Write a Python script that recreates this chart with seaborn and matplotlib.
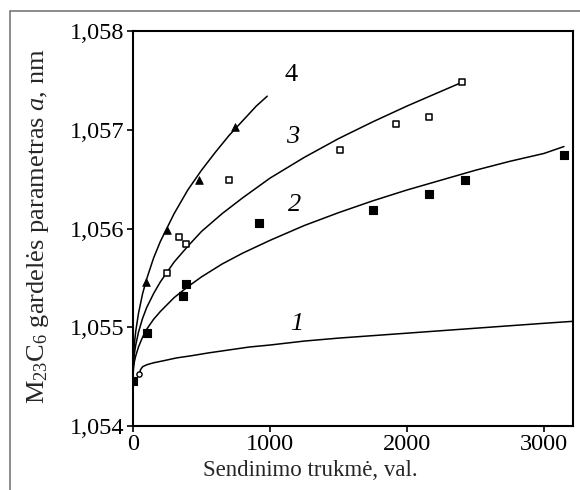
import numpy as np
import pandas as pd
import matplotlib
matplotlib.use("Agg")
import matplotlib.pyplot as plt
from matplotlib.patches import Rectangle
from matplotlib.ticker import FixedLocator, FixedFormatter
import seaborn as sns

# ---------------- data ----------------
# measured points
s1_x = [46]
s1_y = [1.05453]

s2_x = [0, 100, 365, 389, 917, 1754, 2163, 2426, 3146]
s2_y = [1.05446, 1.05494, 1.05532, 1.05544, 1.05606, 1.05619, 1.05635, 1.05649, 1.05674]

s3_x = [245, 336, 389, 698, 1511, 1920, 2161, 2401]
s3_y = [1.05555, 1.05591, 1.05584, 1.05649, 1.05679, 1.05706, 1.05713, 1.05748]

s4_x = [95, 245, 480, 745]
s4_y = [1.05546, 1.05598, 1.05649, 1.05703]

# fitted curves
c1_x = [46, 55, 70, 100, 150, 220, 320, 420, 550, 700, 850, 1000, 1250, 1500,
        1800, 2100, 2400, 2700, 3000, 3212]
c1_y = [1.05453, 1.05457, 1.05460, 1.05462, 1.05464, 1.05466, 1.05469, 1.05471,
        1.05474, 1.05477, 1.05480, 1.05482, 1.05486, 1.05489, 1.05492, 1.05495,
        1.05498, 1.05501, 1.05504, 1.05506]

c2_x = [0, 2, 5, 10, 20, 40, 70, 100, 150, 200, 300, 400, 500, 650, 800, 1000,
        1250, 1500, 1750, 2000, 2250, 2500, 2750, 3000, 3146]
c2_y = [1.05446, 1.05455, 1.05460, 1.05465, 1.05471, 1.05480, 1.05490, 1.05498,
        1.05508, 1.05516, 1.05530, 1.05541, 1.05551, 1.05564, 1.05575, 1.05588,
        1.05603, 1.05616, 1.05628, 1.05639, 1.05649, 1.05659, 1.05668, 1.05676,
        1.05683]

c3_x = [0, 2, 5, 10, 20, 40, 70, 100, 150, 200, 300, 400, 500, 650, 800, 1000,
        1250, 1500, 1750, 2000, 2200, 2401]
c3_y = [1.05446, 1.05459, 1.05466, 1.05473, 1.05482, 1.05495, 1.05509, 1.05520,
        1.05534, 1.05546, 1.05566, 1.05582, 1.05597, 1.05615, 1.05631, 1.05651,
        1.05672, 1.05691, 1.05708, 1.05724, 1.05736, 1.05748]

c4_x = [0, 2, 5, 10, 20, 40, 70, 100, 150, 200, 300, 400, 500, 600, 700, 800,
        900, 980]
c4_y = [1.05446, 1.05464, 1.05473, 1.05483, 1.05496, 1.05514, 1.05534, 1.05549,
        1.05570, 1.05587, 1.05615, 1.05639, 1.05659, 1.05677, 1.05694, 1.05709,
        1.05724, 1.05734]

curve_labels = ["1", "2", "3", "4"]
label_x = [1195, 1182, 1166, 1153]
label_y = [1.05503, 1.05624, 1.05693, 1.05755]

xticks = [0, 1000, 2000, 3000]
xtick_labels = ["0", "1000", "2000", "3000"]
yticks = [1.054, 1.055, 1.056, 1.057, 1.058]
ytick_labels = ["1,054", "1,055", "1,056", "1,057", "1,058"]

x_label = "Sendinimo trukmė, val."
y_label = "M$_{23}$C$_6$ gardelės parametras $a$, nm"

# ---------------- style ----------------
sns.set_style("ticks")
plt.rcParams["font.family"] = ["Liberation Serif", "DejaVu Serif"]
plt.rcParams["mathtext.fontset"] = "custom"
plt.rcParams["mathtext.rm"] = "Liberation Serif"
plt.rcParams["mathtext.it"] = "Liberation Serif:italic"
plt.rcParams["mathtext.bf"] = "Liberation Serif:bold"

fig = plt.figure(figsize=(5.8, 4.9), dpi=100)
ax = fig.add_axes([133 / 580, 1 - 426 / 490, 440 / 580, 395 / 490])

lw = 1.1
for cx, cy in [(c1_x, c1_y), (c2_x, c2_y), (c3_x, c3_y), (c4_x, c4_y)]:
    sns.lineplot(x=cx, y=cy, ax=ax, color="black", lw=lw, sort=False, estimator=None)

sns.scatterplot(x=s2_x, y=s2_y, ax=ax, marker="s", s=30, color="black",
                edgecolor="black", linewidth=0.8, zorder=5)
sns.scatterplot(x=s3_x, y=s3_y, ax=ax, marker="s", s=24, color="white",
                edgecolor="black", linewidth=1.1, zorder=5)
sns.scatterplot(x=s4_x, y=s4_y, ax=ax, marker="^", s=30, color="black",
                edgecolor="black", linewidth=0.6, zorder=5)
sns.scatterplot(x=s1_x, y=s1_y, ax=ax, marker="o", s=14, color="white",
                edgecolor="black", linewidth=1.0, zorder=5)

for i, (lab, lx, ly) in enumerate(zip(curve_labels, label_x, label_y)):
    ax.text(lx, ly, lab, fontsize=19, ha="center", va="center",
            style="normal" if lab == "4" else "italic", color="black")

ax.set_xlim(0, 3212)
ax.set_ylim(1.054, 1.058)
ax.xaxis.set_major_locator(FixedLocator(xticks))
ax.xaxis.set_major_formatter(FixedFormatter(xtick_labels))
ax.yaxis.set_major_locator(FixedLocator(yticks))
ax.yaxis.set_major_formatter(FixedFormatter(ytick_labels))

for sp in ax.spines.values():
    sp.set_linewidth(1.5)
    sp.set_color("black")
ax.tick_params(axis="both", direction="out", length=4, width=1.2, colors="black",
               labelsize=17.5, pad=2)
ax.grid(False)

ax.set_xlabel(x_label, fontsize=16.5)
ax.set_ylabel(y_label, fontsize=19)
ax.xaxis.set_label_coords(0.402, -0.085)
ax.yaxis.set_label_coords(-0.187, 0.505)

fig.add_artist(Rectangle((9.5 / 580, -0.1), 1.2, 1 - 10.5 / 490 + 0.1,
                         transform=fig.transFigure, fill=False,
                         edgecolor="#6e6e6e", linewidth=1.1))

fig.savefig("out.png", dpi=100, facecolor="white")
